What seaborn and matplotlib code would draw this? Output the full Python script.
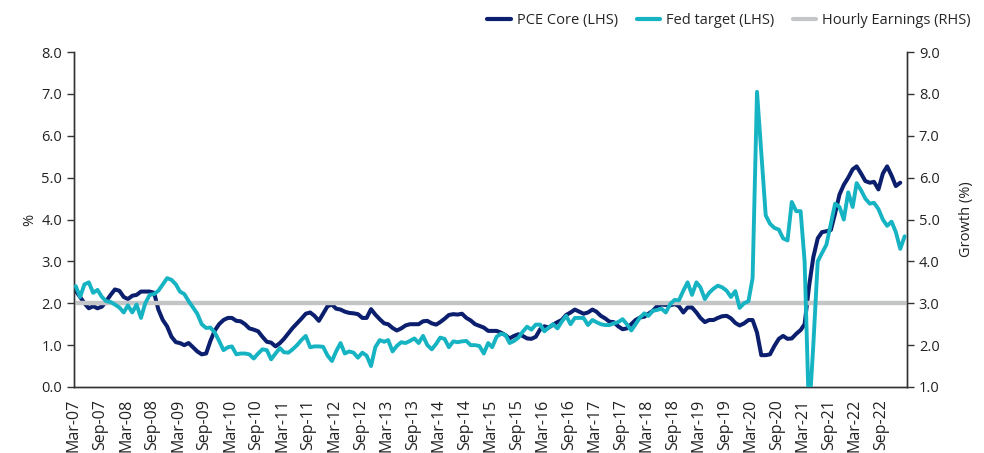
import pandas as pd
import numpy as np
import matplotlib
matplotlib.use('Agg')
import matplotlib.pyplot as plt
import seaborn as sns

# monthly data, Mar-07 onwards
pce_core = [
    2.3, 2.15, 2.0, 1.88, 1.93, 1.88, 1.92, 2.05, 2.2, 2.33,
    2.3, 2.15, 2.1, 2.18, 2.2, 2.28, 2.28, 2.28, 2.25, 1.85,
    1.6, 1.45, 1.2, 1.07, 1.05, 1.0, 1.05, 0.95, 0.85, 0.78,
    0.8, 1.1, 1.35, 1.5, 1.6, 1.65, 1.65, 1.58, 1.57, 1.5,
    1.4, 1.37, 1.33, 1.2, 1.08, 1.06, 0.97, 1.05, 1.15, 1.28,
    1.41, 1.52, 1.63, 1.75, 1.78, 1.70, 1.58, 1.75, 1.93, 1.97,
    1.87, 1.85, 1.8, 1.77, 1.76, 1.74, 1.65, 1.65, 1.86, 1.73,
    1.62, 1.52, 1.5, 1.41, 1.35, 1.4, 1.47, 1.5, 1.5, 1.5,
    1.57, 1.58, 1.52, 1.49, 1.55, 1.63, 1.72, 1.74, 1.73, 1.75,
    1.65, 1.59, 1.5, 1.46, 1.42, 1.34, 1.34, 1.34, 1.3, 1.24,
    1.16, 1.22, 1.26, 1.22, 1.16, 1.15, 1.2, 1.38, 1.45, 1.42,
    1.49, 1.55, 1.6, 1.72, 1.78, 1.85, 1.8, 1.75, 1.78, 1.85,
    1.8, 1.7, 1.64, 1.56, 1.55, 1.45, 1.38, 1.4, 1.5, 1.6,
    1.66, 1.68, 1.75, 1.82, 1.93, 1.97, 1.96, 1.95, 1.98, 1.93,
    1.78, 1.9, 1.9, 1.78, 1.65, 1.55, 1.6, 1.6, 1.65, 1.69,
    1.7, 1.64, 1.53, 1.47, 1.52, 1.6, 1.6, 1.3, 0.76, 0.76,
    0.78, 0.98, 1.15, 1.22, 1.15, 1.16, 1.27, 1.36, 1.5, 2.4,
    3.1, 3.55, 3.7, 3.72, 3.75, 4.15, 4.6, 4.83, 5.0, 5.2,
    5.27, 5.1, 4.92, 4.88, 4.9, 4.72, 5.1, 5.27, 5.05, 4.8, 4.88,
]

# growth, right hand scale
wages_rhs = [
    3.41, 3.15, 3.45, 3.5, 3.25, 3.32, 3.15, 3.05, 3.03, 2.97,
    2.9, 2.78, 2.95, 2.78, 2.97, 2.65, 3.0, 3.2, 3.22, 3.3,
    3.45, 3.6, 3.56, 3.45, 3.28, 3.22, 3.05, 2.9, 2.75, 2.5,
    2.41, 2.42, 2.3, 2.1, 1.88, 1.95, 1.97, 1.78, 1.8, 1.8,
    1.78, 1.68, 1.8, 1.9, 1.88, 1.66, 1.8, 1.93, 1.83, 1.82,
    1.9, 2.0, 2.12, 2.22, 1.95, 1.97, 1.97, 1.96, 1.75, 1.62,
    1.85, 2.05, 1.8, 1.85, 1.82, 1.7, 1.82, 1.75, 1.5, 1.95,
    2.12, 2.08, 2.12, 1.85, 1.98, 2.07, 2.05, 2.1, 2.16, 2.05,
    2.22, 2.0, 1.9, 2.03, 2.18, 2.15, 1.95, 2.09, 2.07, 2.09,
    2.1, 2.0, 2.0, 1.98, 1.8, 2.05, 1.95, 2.2, 2.27, 2.25,
    2.05, 2.1, 2.18, 2.32, 2.44, 2.37, 2.49, 2.49, 2.33, 2.42,
    2.5, 2.4, 2.56, 2.7, 2.5, 2.65, 2.65, 2.65, 2.48, 2.6,
    2.55, 2.5, 2.48, 2.48, 2.52, 2.55, 2.62, 2.5, 2.35, 2.5,
    2.66, 2.76, 2.7, 2.82, 2.84, 2.87, 2.78, 2.98, 3.08, 3.07,
    3.3, 3.5, 3.2, 3.5, 3.38, 3.1, 3.25, 3.35, 3.42, 3.38,
    3.3, 3.15, 3.29, 2.89, 3.0, 3.05, 3.6, 8.05, 6.6, 5.1,
    4.9, 4.8, 4.76, 4.55, 4.5, 5.42, 5.2, 5.2, 4.0, 0.3,
    2.0, 4.0, 4.2, 4.4, 4.9, 5.38, 5.3, 5.0, 5.65, 5.3,
    5.87, 5.7, 5.5, 5.38, 5.4, 5.25, 5.0, 4.85, 4.95, 4.7, 4.3, 4.6,
]

fed_target = 2.0

tick_dates = pd.date_range('2007-03-01', '2023-03-01', freq='6MS')
tick_labels = [d.strftime('%b-%y') for d in tick_dates[:-1]] + ['']

pce_df = pd.DataFrame({
    'date': pd.date_range('2007-03-01', periods=len(pce_core), freq='MS') + pd.Timedelta(days=12),
    'value': pce_core,
})
wage_df = pd.DataFrame({
    'date': pd.date_range('2007-03-01', periods=len(wages_rhs), freq='MS') + pd.Timedelta(days=12),
    'value': wages_rhs,
})

navy = '#0b1f6e'
teal = '#16b3c3'
grey = '#c3c5c7'
axis_col = '#333333'

sns.set_style('white')
plt.rcParams['font.family'] = ['Open Sans', 'DejaVu Sans']

fig = plt.figure(figsize=(9.84, 4.53), dpi=100)
ax = fig.add_axes([0.0752, 0.1457, 0.8465, 0.7393])
ax2 = ax.twinx()

sns.lineplot(data=pce_df, x='date', y='value', ax=ax, color=navy, linewidth=2.9, zorder=2)
ax2.axhline(fed_target + 1, color=grey, linewidth=3.2, zorder=1)
sns.lineplot(data=wage_df, x='date', y='value', ax=ax2, color=teal, linewidth=2.8, zorder=3)

ax.set_xlim(tick_dates[0], tick_dates[-1])
ax.set_ylim(0, 8)
ax2.set_ylim(1, 9)
ax.set_yticks(np.arange(0, 8.1, 1))
ax.set_yticklabels([f'{v:.1f}' for v in np.arange(0, 8.1, 1)])
ax2.set_yticks(np.arange(1, 9.1, 1))
ax2.set_yticklabels([f'{v:.1f}' for v in np.arange(1, 9.1, 1)])
ax.set_xticks(tick_dates)
ax.set_xticklabels(tick_labels, rotation=90)

ax.set_xlabel('')
ax.set_ylabel('%', fontsize=10.5, color='#222222', labelpad=3)
ax2.set_ylabel('Growth (%)', fontsize=10.5, color='#222222', labelpad=14)

for a in (ax, ax2):
    a.spines['top'].set_visible(False)
    for s in ('left', 'right', 'bottom'):
        a.spines[s].set_color(axis_col)
        a.spines[s].set_linewidth(1.0)
    a.tick_params(axis='both', which='major', length=5, width=1, color=axis_col,
                  labelsize=10.5, labelcolor='#222222', direction='out')
    a.grid(False)

ax.tick_params(axis='x', labelsize=11.5)
ax.tick_params(axis='y', left=True, right=False)
ax2.tick_params(axis='y', right=True, left=False)

handles = [
    plt.Line2D([], [], color=navy, linewidth=3),
    plt.Line2D([], [], color=teal, linewidth=3),
    plt.Line2D([], [], color=grey, linewidth=3),
]
labels = ['PCE Core (LHS)', 'Fed target (LHS)', 'Hourly Earnings (RHS)']
fig.legend(handles, labels, loc='upper right', bbox_to_anchor=(1.0, 1.0), ncol=3,
           frameon=False, fontsize=10.5, handlelength=1.6, handletextpad=0.4,
           columnspacing=1.3)

fig.savefig('out.png', dpi=100)
